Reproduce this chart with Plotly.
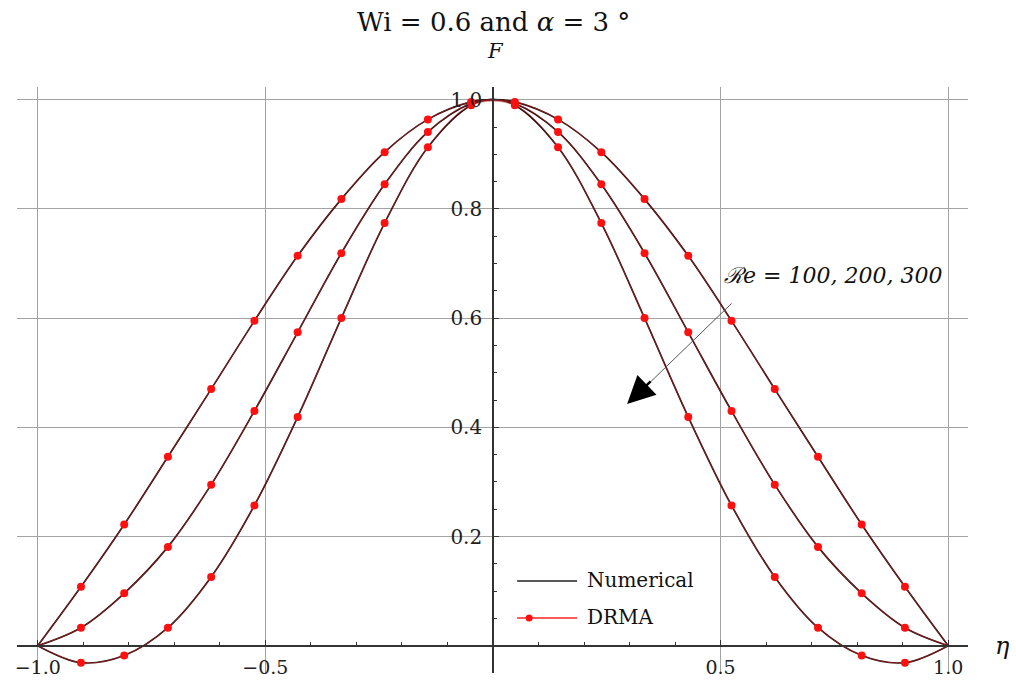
import plotly.graph_objects as go

# ---------------- data ----------------
eta_drma = [-0.905, -0.810, -0.714, -0.619, -0.524, -0.429, -0.333, -0.238, -0.143, -0.048,
            0.048, 0.143, 0.238, 0.333, 0.429, 0.524, 0.619, 0.714, 0.810, 0.905]
drma_re100 = [0.108, 0.222, 0.346, 0.470, 0.595, 0.714, 0.818, 0.904, 0.964, 0.996,
              0.996, 0.964, 0.904, 0.818, 0.714, 0.595, 0.470, 0.346, 0.222, 0.108]
drma_re200 = [0.033, 0.096, 0.181, 0.295, 0.430, 0.574, 0.719, 0.845, 0.941, 0.993,
              0.993, 0.941, 0.845, 0.719, 0.574, 0.430, 0.295, 0.181, 0.096, 0.033]
drma_re300 = [-0.031, -0.018, 0.033, 0.126, 0.257, 0.419, 0.600, 0.774, 0.913, 0.990,
              0.990, 0.913, 0.774, 0.600, 0.419, 0.257, 0.126, 0.033, -0.018, -0.031]

eta_num = [-1.0, -0.905, -0.810, -0.714, -0.619, -0.524, -0.429, -0.333, -0.238, -0.143, -0.048, 0.0,
           0.048, 0.143, 0.238, 0.333, 0.429, 0.524, 0.619, 0.714, 0.810, 0.905, 1.0]
num_re100 = [0.0, 0.108, 0.222, 0.346, 0.470, 0.595, 0.714, 0.818, 0.904, 0.964, 0.996, 1.0,
             0.996, 0.964, 0.904, 0.818, 0.714, 0.595, 0.470, 0.346, 0.222, 0.108, 0.0]
num_re200 = [0.0, 0.033, 0.096, 0.181, 0.295, 0.430, 0.574, 0.719, 0.845, 0.941, 0.993, 1.0,
             0.993, 0.941, 0.845, 0.719, 0.574, 0.430, 0.295, 0.181, 0.096, 0.033, 0.0]
num_re300 = [0.0, -0.031, -0.018, 0.033, 0.126, 0.257, 0.419, 0.600, 0.774, 0.913, 0.990, 1.0,
             0.990, 0.913, 0.774, 0.600, 0.419, 0.257, 0.126, 0.033, -0.018, -0.031, 0.0]

x_ticks = [-1.0, -0.5, 0.5, 1.0]
x_tick_text = ["\u22121.0", "\u22120.5", "0.5", "1.0"]
y_ticks = [0.2, 0.4, 0.6, 0.8, 1.0]
y_tick_text = ["0.2", "0.4", "0.6", "0.8", "1.0"]

title_text = "Wi = 0.6 and <i>\u03b1</i> = 3 \u00b0"
re_label = "<i>\u211be = 100, 200, 300</i>"
legend_names = ["Numerical", "DRMA"]

# ---------------- layout helpers ----------------
W, H = 1016, 682
PL, PR, PT, PB = 16.7, 968.0, 87.0, 673.0
XR = [-1.0455, 1.0435]
YR = [-0.050, 1.0233]
SERIF = "DejaVu Serif"

def px_x(px):
    return (px - PL) / (PR - PL)

def px_y(py):
    return (PB - py) / (PB - PT)

def dx(px):
    return XR[0] + px_x(px) * (XR[1] - XR[0])

def dy(py):
    return YR[0] + px_y(py) * (YR[1] - YR[0])

fig = go.Figure()

for ys in (num_re100, num_re200, num_re300):
    fig.add_trace(go.Scatter(x=eta_num, y=ys, mode="lines",
                             line=dict(color="#2e0c0c", width=1.7, shape="spline"),
                             showlegend=False, hoverinfo="skip"))
for ys in (drma_re100, drma_re200, drma_re300):
    fig.add_trace(go.Scatter(x=eta_num, y=[0.0] + ys[:10] + [None] + ys[10:] + [0.0],
                             mode="lines", connectgaps=True,
                             line=dict(color="rgba(200,45,45,0.6)", width=0.9, shape="spline"),
                             showlegend=False, hoverinfo="skip"))
    fig.add_trace(go.Scatter(x=eta_drma, y=ys, mode="markers",
                             marker=dict(color="#ff1010", size=8),
                             showlegend=False, hoverinfo="skip"))

axis_font = dict(family=SERIF, size=20, color="#222")
fig.update_xaxes(range=XR, tickmode="array", tickvals=x_ticks, ticktext=x_tick_text,
                 showgrid=True, gridcolor="#a3a3a3", gridwidth=1.1, zeroline=False,
                 showline=True, linecolor="#333", linewidth=1.5,
                 anchor="free", position=(0 - YR[0]) / (YR[1] - YR[0]),
                 ticks="inside", ticklen=5, tickcolor="#333", tickwidth=1,
                 minor=dict(ticks="inside", ticklen=3, tickmode="linear", tick0=0, dtick=0.1,
                            tickcolor="#333", showgrid=False),
                 tickfont=dict(family=SERIF, size=19, color="#222"), ticklabelstandoff=5)
fig.update_yaxes(range=YR, tickmode="array", tickvals=y_ticks, ticktext=y_tick_text,
                 showgrid=True, gridcolor="#a3a3a3", gridwidth=1.1, zeroline=False,
                 showline=True, linecolor="#333", linewidth=1.5,
                 anchor="free", position=(0 - XR[0]) / (XR[1] - XR[0]),
                 ticks="inside", ticklen=5, tickcolor="#333", tickwidth=1,
                 minor=dict(ticks="inside", ticklen=3, tickmode="linear", tick0=0, dtick=0.05,
                            tickcolor="#333", showgrid=False),
                 tickfont=axis_font, ticklabelstandoff=6)

ann = []
ann.append(dict(text=title_text, xref="paper", yref="paper", x=px_x(493), y=px_y(22),
                showarrow=False, font=dict(family=SERIF, size=26, color="#111"),
                xanchor="center", yanchor="middle"))
ann.append(dict(text="<i>F</i>", xref="paper", yref="paper", x=px_x(495), y=px_y(51),
                showarrow=False, font=dict(family=SERIF, size=21, color="#111"),
                xanchor="center", yanchor="middle"))
ann.append(dict(text="<i>\u03b7</i>", xref="paper", yref="paper", x=px_x(1003), y=px_y(646),
                showarrow=False, font=dict(family=SERIF, size=24, color="#111"),
                xanchor="center", yanchor="middle"))
ann.append(dict(text=re_label, xref="paper", yref="paper", x=px_x(722), y=px_y(275),
                showarrow=False, font=dict(family=SERIF, size=22, color="#111"),
                xanchor="left", yanchor="middle"))
# arrow: thin gray shaft, black head
ann.append(dict(x=dx(640), y=dy(392), ax=dx(733), ay=dy(302), xref="x", yref="y",
                axref="x", ayref="y", text="", showarrow=True, arrowhead=0,
                arrowwidth=1, arrowcolor="#555"))
ann.append(dict(x=dx(627), y=dy(404), ax=dx(652), ay=dy(380), xref="x", yref="y",
                axref="x", ayref="y", text="", showarrow=True, arrowhead=2,
                arrowsize=2.2, arrowwidth=2.5, arrowcolor="#000", standoff=0))

# legend (drawn manually)
ann.append(dict(text=legend_names[0], xref="paper", yref="paper", x=px_x(585), y=px_y(580),
                showarrow=False, font=dict(family=SERIF, size=20, color="#111"),
                xanchor="left", yanchor="middle"))
ann.append(dict(text=legend_names[1], xref="paper", yref="paper", x=px_x(585), y=px_y(617),
                showarrow=False, font=dict(family=SERIF, size=20, color="#111"),
                xanchor="left", yanchor="middle"))

shapes = [
    dict(type="line", xref="paper", yref="paper", x0=px_x(517), x1=px_x(577),
         y0=px_y(581), y1=px_y(581), line=dict(color="#222", width=1.3)),
    dict(type="line", xref="paper", yref="paper", x0=px_x(517), x1=px_x(577),
         y0=px_y(618), y1=px_y(618), line=dict(color="#ff2020", width=1.3)),
    dict(type="circle", xref="paper", yref="paper", x0=px_x(525.5), x1=px_x(532.5),
         y0=px_y(614.5), y1=px_y(621.5), fillcolor="#ff1010", line=dict(width=0)),
]

fig.update_layout(width=W, height=H, plot_bgcolor="white", paper_bgcolor="white",
                  margin=dict(l=PL, r=W - PR, t=PT, b=H - PB, autoexpand=False),
                  showlegend=False, annotations=ann, shapes=shapes)

fig.write_html("out.html", config={"displayModeBar": False},
               post_script="document.body.style.margin='0';document.body.style.overflow='hidden';")
